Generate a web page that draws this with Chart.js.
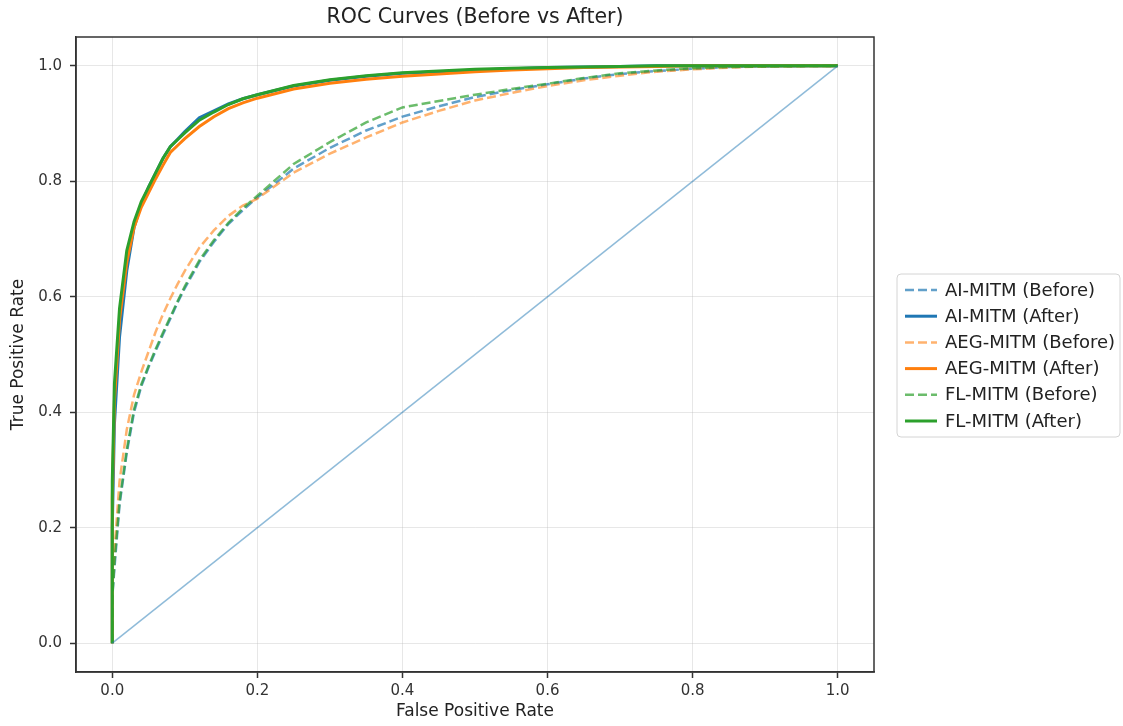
<!DOCTYPE html>
<html>
<head>
<meta charset="utf-8">
<script src="https://cdn.jsdelivr.net/npm/chart.js@4.4.1/dist/chart.umd.min.js"></script>
<style>
  html, body { margin: 0; padding: 0; background: #fff; }
  #wrap { width: 1123px; height: 726px; }
</style>
</head>
<body>
<div id="wrap"><canvas id="roc" width="1123" height="726"></canvas></div>
<script>
// shared false positive rate grid
const fpr = [0, 0, 0.003, 0.01, 0.02, 0.03, 0.04, 0.05, 0.06, 0.07, 0.08, 0.09, 0.10,
  0.12, 0.14, 0.16, 0.18, 0.20, 0.25, 0.30, 0.35, 0.40, 0.45, 0.50, 0.55, 0.60,
  0.65, 0.70, 0.75, 0.80, 0.85, 0.90, 1.00];

// true positive rates per model
const aiBefore = [0, 0.08, 0.13, 0.24, 0.33, 0.40, 0.445, 0.478, 0.507, 0.535, 0.562, 0.59, 0.615,
  0.66, 0.695, 0.726, 0.75, 0.772, 0.822, 0.858, 0.888, 0.912, 0.93, 0.946, 0.958, 0.968,
  0.978, 0.986, 0.991, 0.995, 0.998, 0.999, 1];
const aiAfter = [0, 0.2, 0.38, 0.53, 0.645, 0.72, 0.76, 0.79, 0.815, 0.84, 0.86, 0.873, 0.886,
  0.91, 0.922, 0.934, 0.943, 0.95, 0.965, 0.975, 0.982, 0.987, 0.99, 0.993, 0.995, 0.997,
  0.998, 0.999, 1, 1, 1, 1, 1];
const aegBefore = [0, 0.09, 0.16, 0.28, 0.37, 0.43, 0.47, 0.505, 0.54, 0.57, 0.597, 0.622, 0.645,
  0.685, 0.715, 0.74, 0.758, 0.77, 0.815, 0.848, 0.876, 0.902, 0.922, 0.94, 0.953, 0.965,
  0.975, 0.983, 0.99, 0.994, 0.997, 0.999, 1];
const aegAfter = [0, 0.25, 0.42, 0.56, 0.66, 0.72, 0.755, 0.78, 0.805, 0.828, 0.85, 0.862, 0.874,
  0.895, 0.912, 0.926, 0.936, 0.944, 0.96, 0.97, 0.977, 0.982, 0.986, 0.99, 0.993, 0.995,
  0.997, 0.998, 0.999, 1, 1, 1, 1];
const flBefore = [0, 0.08, 0.14, 0.245, 0.335, 0.405, 0.448, 0.48, 0.51, 0.538, 0.565, 0.592, 0.618,
  0.663, 0.698, 0.728, 0.753, 0.775, 0.83, 0.868, 0.902, 0.928, 0.939, 0.95, 0.96, 0.969,
  0.979, 0.987, 0.992, 0.996, 0.998, 0.999, 1];
const flAfter = [0, 0.28, 0.45, 0.58, 0.68, 0.73, 0.765, 0.79, 0.815, 0.84, 0.86, 0.872, 0.884,
  0.906, 0.92, 0.933, 0.943, 0.95, 0.966, 0.976, 0.983, 0.988, 0.991, 0.994, 0.996, 0.997,
  0.998, 0.999, 1, 1, 1, 1, 1];

const diagX = [0, 1];
const diagY = [0, 1];

const seriesNames = ["AI-MITM (Before)", "AI-MITM (After)", "AEG-MITM (Before)",
  "AEG-MITM (After)", "FL-MITM (Before)", "FL-MITM (After)"];
const seriesTpr = [aiBefore, aiAfter, aegBefore, aegAfter, flBefore, flAfter];
const axisTicks = [0, 0.2, 0.4, 0.6, 0.8, 1.0];

const FONT = "'DejaVu Sans', sans-serif";
const colors = [
  "rgba(31,119,180,0.7)", "#1f77b4",
  "rgba(255,127,14,0.6)", "#ff7f0e",
  "rgba(44,160,44,0.7)", "#2ca02c"
];

function pts(xs, ys) {
  return xs.map((x, i) => ({ x: x, y: ys[i] }));
}

const datasets = seriesNames.map((name, i) => {
  const dashed = i % 2 === 0;
  return {
    label: name,
    data: pts(fpr, seriesTpr[i]),
    borderColor: colors[i],
    borderWidth: dashed ? 2.5 : 3,
    borderDash: dashed ? [9, 4] : [],
    showLine: true,
    pointRadius: 0,
    tension: 0,
    order: 10 - i
  };
});
datasets.push({
  label: "chance",
  data: pts(diagX, diagY),
  borderColor: "rgba(31,119,180,0.5)",
  borderWidth: 1.5,
  showLine: true,
  pointRadius: 0,
  order: 0
});

// title, top/right spines and the boxed legend
const framePlugin = {
  id: "frame",
  afterDraw(chart) {
    const ctx = chart.ctx;
    const a = chart.chartArea;
    ctx.save();
    ctx.strokeStyle = "#333";
    ctx.lineWidth = 1.5;
    ctx.strokeRect(a.left, a.top, a.right - a.left, a.bottom - a.top);

    ctx.fillStyle = "#222";
    ctx.font = "20.5px " + FONT;
    ctx.textAlign = "center";
    ctx.textBaseline = "middle";
    ctx.fillText("ROC Curves (Before vs After)", (a.left + a.right) / 2, 18);

    // legend box
    const bx = 897, by = 274, bw = 223, bh = 163;
    ctx.beginPath();
    ctx.roundRect(bx, by, bw, bh, 4);
    ctx.fillStyle = "rgba(255,255,255,0.9)";
    ctx.fill();
    ctx.strokeStyle = "#d4d4d4";
    ctx.lineWidth = 1;
    ctx.stroke();

    ctx.font = "18px " + FONT;
    ctx.textAlign = "left";
    seriesNames.forEach((name, i) => {
      const ds = chart.data.datasets[i];
      const y = by + 16 + i * 26.2;
      ctx.beginPath();
      ctx.setLineDash(ds.borderDash);
      ctx.strokeStyle = ds.borderColor;
      ctx.lineWidth = ds.borderWidth;
      ctx.moveTo(905, y);
      ctx.lineTo(937, y);
      ctx.stroke();
      ctx.setLineDash([]);
      ctx.fillStyle = "#222";
      ctx.fillText(name, 945, y + 1);
    });
    ctx.restore();
  }
};

function axis(titleText, isX) {
  return {
    type: "linear",
    min: -0.05,
    max: 1.05,
    afterBuildTicks(scale) {
      scale.ticks = axisTicks.map(v => ({ value: v }));
    },
    afterFit(scale) {
      if (isX) scale.height = 54; else scale.width = 76;
    },
    ticks: {
      color: "#333",
      font: { family: FONT, size: 15 },
      padding: isX ? 4 : 8,
      callback: v => v.toFixed(1)
    },
    grid: {
      color: "rgba(176,176,176,0.3)",
      lineWidth: 1,
      tickColor: "#333",
      tickLength: 6,
      tickWidth: 1.5
    },
    border: { display: true, color: "#333", width: 1.5 },
    title: {
      display: true,
      text: titleText,
      color: "#222",
      font: { family: FONT, size: 17 },
      padding: isX ? { top: 0, bottom: 4 } : { top: 8, bottom: 0 }
    }
  };
}

new Chart(document.getElementById("roc").getContext("2d"), {
  type: "scatter",
  data: { datasets },
  options: {
    responsive: false,
    animation: false,
    layout: { padding: { left: 0, top: 37, right: 249, bottom: 0 } },
    plugins: {
      legend: { display: false },
      title: { display: false },
      tooltip: { enabled: false }
    },
    scales: {
      x: axis("False Positive Rate", true),
      y: axis("True Positive Rate", false)
    }
  },
  plugins: [framePlugin]
});
</script>
</body>
</html>
